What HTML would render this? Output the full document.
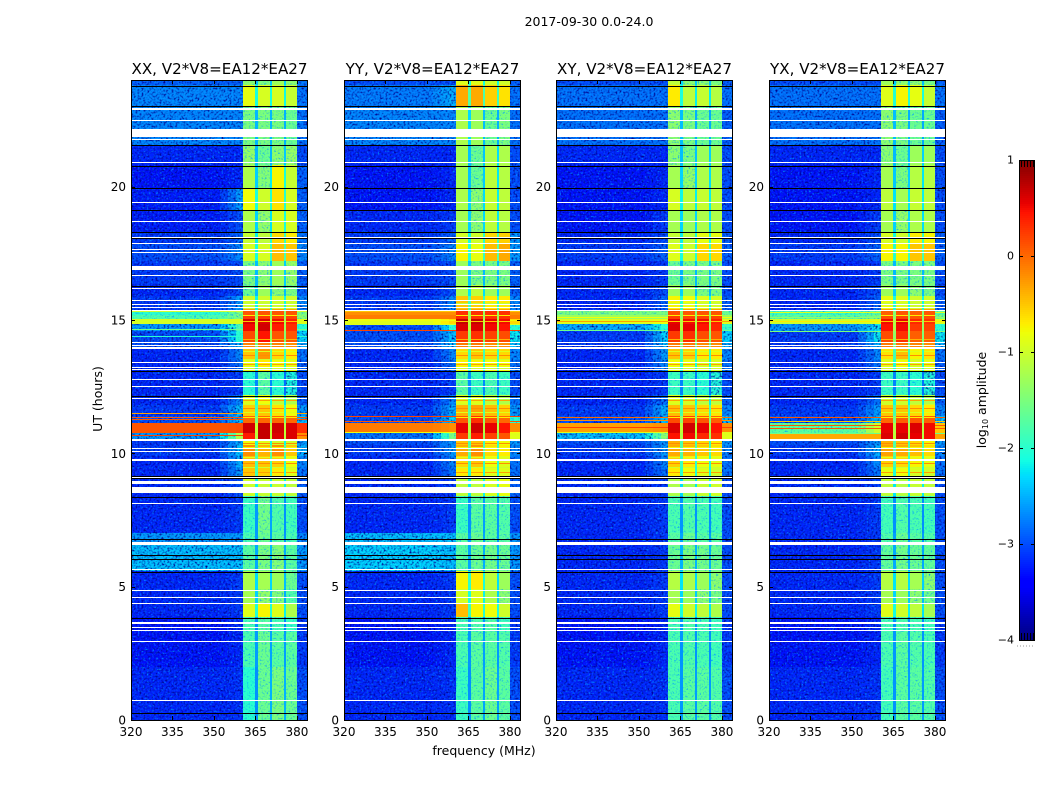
<!DOCTYPE html>
<html lang="en">
<head>
<meta charset="utf-8">
<title>2017-09-30 0.0-24.0</title>
<style>
html,body{margin:0;padding:0;background:#fff;}
svg{display:block;}
text{font-family:"DejaVu Sans","Liberation Sans",sans-serif;fill:#000;}
</style>
</head>
<body>
<svg id="chart" xmlns="http://www.w3.org/2000/svg" width="1050" height="800" viewBox="0 0 1050 800">
  <defs>
    <filter id="speckle" x="0" y="0" width="100%" height="100%" color-interpolation-filters="sRGB">
      <feTurbulence type="fractalNoise" baseFrequency="0.55" numOctaves="2" seed="3"/>
      <feColorMatrix type="matrix" values="0 0 0 0 0  0 0 0 0 0.62  0 0 0 0 1  1.7 1.7 0 0 -1.75"/>
    </filter>
    <filter id="speckle-dark" x="0" y="0" width="100%" height="100%" color-interpolation-filters="sRGB">
      <feTurbulence type="fractalNoise" baseFrequency="0.5" numOctaves="2" seed="9"/>
      <feColorMatrix type="matrix" values="0 0 0 0 0  0 0 0 0 0  0 0 0 0 0.55  1.7 1.7 0 0 -1.6"/>
    </filter>
  </defs>
  <rect x="0" y="0" width="1050" height="800" fill="#ffffff"/>
  <text x="589" y="26" font-size="12.5" text-anchor="middle">2017-09-30 0.0-24.0</text>
  <text transform="translate(102,399) rotate(-90)" font-size="12.5" text-anchor="middle">UT (hours)</text>
  <text x="484" y="755" font-size="12.5" text-anchor="middle">frequency (MHz)</text>
  <text transform="translate(986,400) rotate(-90)" font-size="12.5" text-anchor="middle">log<tspan font-size="8" dy="2">10</tspan><tspan dy="-2"> amplitude</tspan></text>
  <g id="panels"></g>
  <g id="colorbar"></g>
</svg>
<script>
// ---------- shared axis data ----------
const panelTitles = ["XX, V2*V8=EA12*EA27", "YY, V2*V8=EA12*EA27", "XY, V2*V8=EA12*EA27", "YX, V2*V8=EA12*EA27"];
const freqTicks = [320, 335, 350, 365, 380];
const timeTicks = [0, 5, 10, 15, 20];
const colorTicks = [-4, -3, -2, -1, 0, 1];

// Channel boundaries (MHz): background, shoulder ramp (3), sub-band 1, gap, sub-band 2, gap, sub-band 3, gap, sub-band 4, upper edge
const freqEdges = [320, 352, 355, 358, 360.5, 365, 366, 370.1, 371, 375.2, 376, 380, 384];

// Time row boundaries (hours), top to bottom
const timeEdges = [24, 23.8, 23.04, 21.56, 20.8, 19.95, 19.13, 18.3, 17.9, 17.2, 16.3, 15.9, 15.34, 15.2, 15.04, 14.85, 14.6, 14.15, 13.9, 13.5, 13.1, 12.2, 11.8, 11.4, 11.15, 10.75, 10.5, 10.3, 9.9, 9.5, 9.16, 8.4, 7, 6.56, 5.6, 4.9, 4.35, 3.85, 3.3, 2, 0];

// log10 amplitude per time row: [background, shoulder, sub1, sub2, sub3, sub4, upper edge]
const xxLevels = [
[-2.9,-2.9,-1.4,-1.5,-1.3,-1.4,-2.8],[-2.7,-2.7,-0.85,-0.95,-0.95,-1.05,-2.8],[-2.7,-2.7,-1.5,-1.5,-1.5,-1.6,-2.8],
[-3.2,-3.2,-1.35,-1.6,-1.4,-1.35,-3],[-3.3,-3.2,-1.2,-1.45,-0.75,-1.05,-2.9],[-3.25,-2.6,-0.8,-1,-0.65,-0.95,-2.9],
[-3.25,-3,-1.2,-1.35,-0.95,-0.95,-2.9],[-3.1,-2.9,-1.05,-1.1,-0.6,-0.7,-2.8],[-3,-2.7,-0.95,-0.95,-0.45,-0.5,-2.7],
[-3.1,-3,-1.5,-1.4,-1.3,-1.35,-2.9],[-3.2,-3,-1.6,-1.3,-1.4,-1.5,-2.9],[-3.1,-2.6,-1,-1,-1,-1,-2.7],
[-2,-1.5,0.1,0.1,0.1,0.1,-1.5],[-1.8,-1.5,0.25,0.25,0.2,0.2,-1.4],[-0.95,-0.95,0.6,0.6,0.5,0.4,-0.9],
[-2.6,-1.8,0.5,0.65,0.4,0.3,-2],[-3,-2,0.15,0.45,0.1,0.1,-2.3],[-3,-2.5,-0.15,-0.15,-0.15,-0.2,-2.5],
[-3.2,-2.7,-0.5,-0.25,-0.6,-0.7,-2.8],[-3.2,-2.8,-0.85,-0.7,-0.8,-0.85,-2.9],[-3.2,-3.1,-2,-1.7,-2,-2.1,-3],
[-3.2,-2.7,-0.9,-0.8,-1.1,-1.2,-2.9],[-3.1,-2.4,-0.55,-0.5,-0.65,-0.8,-2.6],[-3,-2.4,0,0,0,0,-2.4],
[0.1,0.15,0.65,0.7,0.65,0.6,0.3],[-2.6,-1.2,0.4,0.7,0.6,0.6,-0.2],[-3.1,-2.5,-0.8,-0.9,-1,-1,-2.6],
[-3.1,-2.4,-0.2,-0.4,-0.2,-0.5,-2.5],[-3.2,-2.5,-0.45,-0.5,-0.55,-0.8,-2.7],[-3.2,-2.6,-0.5,-0.55,-0.7,-0.9,-2.8],
[-3.2,-3,-1,-1.05,-1.05,-1.1,-2.9],[-3.2,-3.1,-1.9,-1.55,-1.75,-1.85,-3],[-2.6,-2.6,-1.8,-1.6,-1.7,-1.8,-2.7],
[-2.4,-2.4,-1.7,-1.5,-1.45,-1.7,-2.6],[-3.2,-3.1,-1.2,-1.25,-1.3,-1.6,-3],[-3.2,-3.1,-1.25,-1.35,-1.45,-1.75,-3],
[-3.2,-3.1,-0.9,-0.75,-0.9,-1.2,-3],[-3.3,-3.2,-1.8,-1.7,-1.8,-1.9,-3.1],[-3.3,-3.2,-1.8,-1.6,-1.7,-1.7,-3.1],
[-3.2,-3.15,-2,-1.6,-1.5,-1.6,-3]];

const yyLevels = [
[-3,-3,-0.9,-0.9,-1,-1,-2.9],[-2.75,-2.5,-0.35,-0.35,-0.55,-0.65,-2.8],[-2.7,-2.7,-1.2,-1.3,-1.6,-1.5,-2.8],
[-3.2,-3.2,-1.25,-1.6,-1.2,-1.2,-3],[-3.3,-3.2,-1.25,-1.6,-1.1,-1.15,-3],[-3.3,-3.2,-1.2,-1.4,-1.05,-1.1,-3],
[-3.2,-3.1,-1.25,-1.4,-1.1,-1.15,-3],[-3.1,-2.9,-0.95,-1,-0.6,-0.55,-2.6],[-3,-2.7,-0.75,-0.85,-0.45,-0.35,-2.6],
[-3.1,-3,-1.3,-1.5,-1.5,-1.5,-2.9],[-3.2,-3,-1.2,-1.1,-1.3,-1.3,-2.9],[-3.1,-2.7,-0.5,-0.55,-0.7,-0.7,-2.7],
[-0.2,-0.2,0.3,0.3,0.3,0.3,-0.2],[-0.1,-0.1,0.35,0.3,0.3,0.3,-0.1],[-0.9,-0.6,0.7,0.7,0.55,0.5,-0.6],
[-3,-2,0.6,0.6,0.5,0.45,-2],[-3,-2.4,0.25,0.3,0.2,0.15,-2.2],[-3,-2.4,-0.1,-0.1,-0.2,-0.2,-2.4],
[-3.2,-2.7,-0.6,-0.5,-0.6,-0.6,-2.7],[-3.2,-2.8,-0.75,-0.75,-0.8,-0.8,-2.8],[-3.2,-3.1,-1.7,-1.9,-1.8,-1.9,-3],
[-3.2,-2.7,-0.9,-0.9,-1.1,-1.2,-2.8],[-3.1,-2.5,-0.4,-0.3,-0.45,-0.55,-2.6],[-3,-2.3,0.1,0.3,0.1,0,-2],
[-0.1,-0.2,0.55,0.65,0.55,0.45,-0.2],[-2.8,-1.5,0.25,0.4,0.2,0.1,-0.9],[-3,-2.6,-0.5,-0.5,-0.7,-0.8,-2.6],
[-3.1,-2.6,-0.35,-0.2,-0.6,-0.7,-2.7],[-3.2,-2.7,-0.6,-0.5,-0.8,-0.9,-2.8],[-3.2,-2.8,-0.7,-0.7,-0.9,-0.9,-2.8],
[-3.2,-3.1,-1.1,-1.1,-0.95,-0.85,-2.9],[-3.2,-3.1,-1.9,-1.7,-1.7,-1.75,-3],[-2.4,-2.4,-1.7,-1.6,-1.7,-1.7,-2.6],
[-2.3,-2.4,-1.7,-1.6,-1.55,-1.6,-2.6],[-3.2,-3.1,-0.75,-0.7,-1.1,-1.3,-3],[-3.2,-3.1,-0.95,-0.9,-1.2,-1.4,-3],
[-3.2,-3.1,-0.45,-0.75,-0.8,-1,-3],[-3.3,-3.2,-1.8,-1.75,-1.7,-1.85,-3.1],[-3.3,-3.2,-1.8,-1.7,-1.7,-1.75,-3.1],
[-3.2,-3.15,-1.9,-1.7,-1.6,-1.7,-3]];

const xyLevels = [
[-3,-3,-1.1,-1.4,-1.4,-1.5,-2.9],[-2.8,-2.8,-0.7,-1.1,-1.05,-1.15,-2.8],[-2.8,-2.8,-1.4,-1.5,-1.6,-1.6,-2.9],
[-3.2,-3.2,-1.4,-1.5,-1.3,-1.3,-3],[-3.3,-3.2,-1.25,-1.35,-1.2,-1.2,-3],[-3.3,-3.2,-0.95,-1.1,-1.05,-1.1,-3],
[-3.3,-3.1,-1.25,-1.3,-1.2,-1.2,-3],[-3.2,-3,-1.05,-1.1,-0.85,-0.85,-2.9],[-3.1,-2.9,-0.9,-1,-0.6,-0.6,-2.9],
[-3.2,-3.1,-1.6,-1.5,-1.5,-1.5,-3],[-3.2,-3,-1.3,-1.3,-1.5,-1.5,-3],[-3.2,-2.9,-0.75,-0.8,-0.9,-0.95,-2.9],
[-1.5,-1.5,0.15,0.1,0.1,0.1,-1.6],[-1.3,-1.3,0.25,0.2,0.2,0.2,-1.3],[-0.9,-0.8,0.55,0.5,0.5,0.4,-0.9],
[-2.5,-2,0.6,0.55,0.45,0.35,-1.9],[-3.1,-2.3,0.25,0.3,0.15,0.1,-2.3],[-3.1,-2.4,-0.1,-0.1,-0.2,-0.2,-2.5],
[-3.2,-2.6,-0.5,-0.55,-0.7,-0.7,-2.7],[-3.2,-2.7,-0.8,-0.85,-0.95,-0.95,-2.8],[-3.2,-3.1,-1.9,-1.9,-2,-2.05,-3],
[-3.2,-2.8,-0.9,-0.95,-1.1,-1.1,-2.9],[-3.1,-2.5,-0.45,-0.5,-0.6,-0.65,-2.7],[-3,-2.4,0.15,0.2,0.1,0.05,-2.4],
[-0.3,-0.2,0.6,0.65,0.55,0.45,-0.2],[-2.4,-1.4,0.45,0.5,0.35,0.3,-0.9],[-3,-2.6,-0.4,-0.5,-0.6,-0.7,-2.6],
[-3.1,-2.6,-0.35,-0.4,-0.5,-0.6,-2.7],[-3.2,-2.7,-0.55,-0.7,-0.8,-0.85,-2.8],[-3.2,-2.8,-0.7,-0.8,-0.9,-1,-2.8],
[-3.2,-3.1,-1.2,-1.25,-1.05,-1,-3],[-3.2,-3.1,-1.8,-1.75,-1.8,-1.85,-3],[-3.2,-3.1,-1.7,-1.6,-1.7,-1.7,-3],
[-3.2,-3.1,-1.6,-1.5,-1.55,-1.6,-3],[-3.2,-3.1,-1.15,-1.2,-1.3,-1.4,-3],[-3.2,-3.1,-1.25,-1.3,-1.4,-1.5,-3],
[-3.2,-3.1,-0.85,-1,-1.1,-1.2,-3],[-3.3,-3.2,-1.8,-1.75,-1.8,-1.85,-3.1],[-3.3,-3.2,-1.8,-1.75,-1.8,-1.85,-3.1],
[-3.2,-3.15,-1.8,-1.7,-1.7,-1.75,-3]];

const yxLevels = [
[-3,-3,-1.3,-1.4,-1.4,-1.5,-2.9],[-2.8,-2.8,-0.9,-0.75,-0.85,-1.05,-2.8],[-2.8,-2.8,-1.4,-1.5,-1.6,-1.6,-2.9],
[-3.2,-3.2,-1.4,-1.6,-1.3,-1.3,-3],[-3.3,-3.2,-1.25,-1.5,-1.15,-1.15,-3],[-3.3,-3.2,-1.1,-1.25,-1.05,-1.1,-3],
[-3.3,-3.1,-1.25,-1.35,-1.2,-1.2,-3],[-3.2,-3,-0.95,-1,-0.7,-0.75,-2.9],[-3.1,-2.9,-0.75,-0.75,-0.5,-0.5,-2.9],
[-3.2,-3.1,-1.5,-1.5,-1.5,-1.5,-3],[-3.2,-3,-1.3,-1.3,-1.4,-1.5,-3],[-3.2,-2.9,-0.85,-0.9,-1,-1,-2.9],
[-1.9,-1.7,0.05,0.1,0.05,0.1,-1.7],[-1.7,-1.5,0.15,0.2,0.1,0.15,-1.5],[-1,-0.9,0.5,0.55,0.35,0.3,-0.9],
[-2.6,-2.2,0.45,0.5,0.25,0.2,-2],[-3.1,-2.2,0.15,0.3,0.05,0.05,-2.2],[-3.1,-2.5,-0.1,-0.1,-0.15,-0.2,-2.5],
[-3.2,-2.7,-0.65,-0.45,-0.75,-0.65,-2.8],[-3.2,-2.8,-0.9,-0.8,-0.95,-0.85,-2.9],[-3.2,-3.1,-1.9,-1.9,-2,-2.05,-3],
[-3.2,-2.8,-1,-1,-1.1,-1.2,-2.9],[-3.1,-2.6,-0.5,-0.5,-0.6,-0.7,-2.7],[-3,-2.4,0,0.05,0.1,0.05,-2.4],
[-1.7,-1,0.55,0.55,0.6,0.5,-0.5],[-0.35,-0.35,0.6,0.65,0.55,0.5,-0.3],[-3,-2.6,-0.4,-0.5,-0.6,-0.75,-2.6],
[-3.1,-2.5,-0.3,-0.35,-0.45,-0.6,-2.7],[-3.2,-2.7,-0.55,-0.6,-0.75,-0.85,-2.8],[-3.2,-2.8,-0.85,-0.8,-0.95,-1,-2.8],
[-3.2,-3.1,-1.1,-1.15,-1.05,-1.1,-3],[-3.2,-3.1,-1.85,-1.75,-1.8,-1.85,-3],[-3.2,-3.1,-1.75,-1.6,-1.7,-1.75,-3],
[-3.2,-3.1,-1.65,-1.55,-1.6,-1.65,-3],[-3.2,-3.1,-1.15,-1.15,-1.25,-1.4,-3],[-3.2,-3.1,-1.25,-1.3,-1.4,-1.55,-3],
[-3.2,-3.1,-0.9,-1,-1.1,-1.25,-3],[-3.3,-3.2,-1.8,-1.75,-1.8,-1.85,-3.1],[-3.3,-3.2,-1.8,-1.7,-1.75,-1.8,-3.1],
[-3.2,-3.15,-1.85,-1.7,-1.7,-1.75,-3]];

// Thin across-band interference rows: [hour, log10 amplitude]
const xxCrossLines = [[15.32,-1],[14.65,-1.6],[14.4,-2],[11.5,-0.3],[11.37,0.1],[11.27,0.1],[10.68,0.2]];
const yyCrossLines = [[15.35,-0.5],[15,-0.8],[14.85,-0.9],[14.62,0.2],[11.4,0.2],[11.2,0.1],[10.8,-0.8]];
const xyCrossLines = [[15.1,-0.8],[14.95,-0.3],[14.62,-1.6],[11.37,0],[11.25,-0.2],[11,0.2],[10.8,-0.9]];
const yxCrossLines = [[15.3,-0.9],[15.1,-1.4],[14.95,-0.7],[14.6,-1.5],[11.37,0.1],[11.2,-0.5],[11.05,0.1],[10.95,0.1],[10.75,-1.6]];

// Thin in-band stripes (hours) and their log10 amplitude
const subStripeTimes = [15.65,15.42,15.18,14.98,14.3,14.05,13.85,13.7,13.55,13.35,13.2,12,11.85,11.7,11.55,11.35,10.4,10.25,10.1,9.85,9.65,9.5,9.3];
const subStripeLevels = [-1.1,-0.3,-0.7,-0.5,-0.4,-0.8,-0.9,-0.2,-1,-0.3,-1,-0.3,-1,-0.2,-0.9,-0.7,-0.2,-0.8,-0.1,-0.9,-0.2,-1,-0.3];

// Flagged (missing) data ranges in hours: [start, end], drawn white
const flaggedRanges = [[22.96,22.88],[22.51,22.47],[22.16,21.86],[21.8,21.76],[20.92,20.88],[19.41,19.37],[18.72,18.68],[18.11,18.07],[17.9,17.86],[17.68,17.64],[17.56,17.52],[17.03,16.88],[16.68,16.64],[16.19,16.15],[15.74,15.7],[15.61,15.57],[15.5,15.46],[15.36,15.32],[14.16,14.12],[14.06,14.02],[13.97,13.91],[13.42,13.38],[13.25,13.21],[13.15,13.11],[12.8,12.76],[12.52,12.48],[12.08,12.04],[10.52,10.48],[10.19,10.15],[10.08,10.04],[9.77,9.73],[9.15,9.04],[8.97,8.85],[8.73,8.52],[8.15,8.11],[6.69,6.56],[5.65,5.61],[4.88,4.84],[4.61,4.57],[4.4,4.36],[3.67,3.61],[3.48,3.44],[3.38,3.34],[2.97,2.93],[0.76,0.72]];

// Zero-amplitude scan boundaries (hours), drawn black
const scanGapTimes = [23.79,23.04,21.56,20.78,19.95,19.13,18.3,18.08,16.28,13.1,12.16,9.16,9.07,8.37,6.79,6.19,6.04,5.55,3.83,0.26];

// Panel frames on the figure
const panelLevels = [xxLevels, yyLevels, xyLevels, yxLevels];
const panelCrossLines = [xxCrossLines, yyCrossLines, xyCrossLines, yxCrossLines];
const panelLefts = [131, 344, 556, 769];
const panelKeys = ["xx", "yy", "xy", "yx"];
const panelWidth = 177, panelTop = 80, panelHeight = 640;

const SVGNS = "http://www.w3.org/2000/svg";
const panelsRoot = document.getElementById("panels");
const colorbarRoot = document.getElementById("colorbar");

function jet(level) {
  const t = Math.max(0, Math.min(1, (level + 4) / 5));
  const ramp = (x, pts) => {
    for (let i = 1; i < pts.length; i++) {
      if (x <= pts[i][0]) {
        const a = pts[i - 1], b = pts[i];
        return a[1] + (b[1] - a[1]) * (x - a[0]) / (b[0] - a[0]);
      }
    }
    return pts[pts.length - 1][1];
  };
  const r = ramp(t, [[0, 0], [0.35, 0], [0.66, 1], [0.89, 1], [1, 0.5]]);
  const g = ramp(t, [[0, 0], [0.125, 0], [0.375, 1], [0.64, 1], [0.91, 0], [1, 0]]);
  const b = ramp(t, [[0, 0.5], [0.11, 1], [0.34, 1], [0.65, 0], [1, 0]]);
  return "rgb(" + Math.round(r * 255) + "," + Math.round(g * 255) + "," + Math.round(b * 255) + ")";
}

function xAxis(panelIndex) {
  return f => panelLefts[panelIndex] + (f - 320) * panelWidth / 64;
}
function yAxis(hour) {
  return panelTop + panelHeight - hour * panelHeight / 24;
}
function cbAxis(level) {
  return 640 - (level + 4) * 96;
}

function makeRect(parent, x, y, w, h, fill) {
  const el = document.createElementNS(SVGNS, "rect");
  el.setAttribute("x", x);
  el.setAttribute("y", y);
  el.setAttribute("width", w);
  el.setAttribute("height", h);
  el.setAttribute("fill", fill);
  el.setAttribute("shape-rendering", "crispEdges");
  parent.appendChild(el);
  return el;
}
function makeLine(parent, x1, y1, x2, y2) {
  const el = document.createElementNS(SVGNS, "line");
  el.setAttribute("x1", x1);
  el.setAttribute("y1", y1);
  el.setAttribute("x2", x2);
  el.setAttribute("y2", y2);
  el.setAttribute("stroke", "#000");
  el.setAttribute("stroke-width", "1");
  el.setAttribute("shape-rendering", "crispEdges");
  parent.appendChild(el);
  return el;
}
function makeText(parent, x, y, str, size, anchor) {
  const el = document.createElementNS(SVGNS, "text");
  el.setAttribute("x", x);
  el.setAttribute("y", y);
  el.setAttribute("font-size", size);
  el.setAttribute("text-anchor", anchor);
  el.textContent = str;
  parent.appendChild(el);
  return el;
}

// How each channel column reads a row of levels
function columnLevel(row, c) {
  if (c === 0) return row[0];
  if (c === 1) return row[0] + 0.3 * (row[1] - row[0]);
  if (c === 2) return row[0] + 0.65 * (row[1] - row[0]);
  if (c === 3) return row[1];
  if (c === 4) return row[2];
  if (c === 5) return -1.5 + 0.65 * (row[2] + row[3]) / 2;
  if (c === 6) return row[3];
  if (c === 7) return -1.5 + 0.65 * (row[3] + row[4]) / 2;
  if (c === 8) return row[4];
  if (c === 9) return -1.5 + 0.65 * (row[4] + row[5]) / 2;
  if (c === 10) return row[5];
  return row[6];
}
const subBandColumns = [4, 6, 8, 10];

panelLevels.forEach((levels, p) => {
  const x = xAxis(p);
  const left = panelLefts[p];
  const right = left + panelWidth;
  const g = document.createElementNS(SVGNS, "g");
  
  
  panelsRoot.appendChild(g);

  levels.forEach((row, r) => {
    const y0 = Math.round(yAxis(timeEdges[r]));
    const y1 = Math.round(yAxis(timeEdges[r + 1]));
    if (y1 <= y0) return;
    for (let c = 0; c < freqEdges.length - 1; c++) {
      const level = columnLevel(row, c);
      const x0 = Math.round(x(freqEdges[c]));
      const x1 = Math.round(x(freqEdges[c + 1]));
      const cell = makeRect(g, x0, y0, x1 - x0, y1 - y0, jet(level));
      
      
      const isGap = c === 5 || c === 7 || c === 9;
      if (!isGap && level < -1.3) {
        const sp = makeRect(g, x0, y0, x1 - x0, y1 - y0, "#000");
        sp.setAttribute("filter", "url(#speckle)");
        
        
      }
      if (!isGap && level < -2) {
        const dk = makeRect(g, x0, y0, x1 - x0, y1 - y0, "#000");
        dk.setAttribute("filter", "url(#speckle-dark)");
        
        
      }
    }
  });

  // in-band stripes
  subStripeTimes.forEach((hour, i) => {
    subBandColumns.forEach(c => {
      const x0 = Math.round(x(freqEdges[c]));
      const stripe = makeRect(g, x0, Math.round(yAxis(hour)), Math.round(x(freqEdges[c + 1])) - x0, 1, jet(subStripeLevels[i]));
      
      
    });
  });

  // across-band interference rows
  panelCrossLines[p].forEach(item => {
    const yy = Math.round(yAxis(item[0]));
    const colour = jet(item[1]);
    const a = makeRect(g, left, yy, Math.round(x(freqEdges[4])) - left, 1, colour);
    
    
    const bx = Math.round(x(freqEdges[11]));
    const b = makeRect(g, bx, yy, Math.round(right) - bx, 1, colour);
    
    
  });

  // flagged rows
  flaggedRanges.forEach(range => {
    const y0 = Math.round(yAxis(range[0]));
    const h = Math.max(1, Math.round(yAxis(range[1])) - y0);
    const el = makeRect(g, left, y0, panelWidth, h, "#ffffff");
    
    
  });

  // scan gaps
  scanGapTimes.forEach(hour => {
    const el = makeRect(g, left, Math.round(yAxis(hour)), panelWidth, 1, "#000000");
    
    
  });

  // frame
  const frame = makeRect(g, left + 0.5, panelTop + 0.5, panelWidth - 1, panelHeight, "none");
  frame.setAttribute("stroke", "#000");
  frame.setAttribute("stroke-width", "1");
  
  

  // x ticks
  freqTicks.forEach(f => {
    const tx = Math.round(x(f)) + 0.5;
    const t1 = makeLine(g, tx, panelTop + panelHeight, tx, panelTop + panelHeight - 4);
    
    
    const t2 = makeLine(g, tx, panelTop, tx, panelTop + 4);
    
    
    const lab = makeText(g, x(f), 736, String(f), 12, "middle");
    
    
  });

  // y ticks
  timeTicks.forEach(hour => {
    const ty = Math.round(yAxis(hour)) + 0.5;
    const t1 = makeLine(g, left, ty, left + 4, ty);
    
    
    const t2 = makeLine(g, right - 4, ty, right, ty);
    
    
    const lab = makeText(g, left - 5, yAxis(hour) + 4.5, String(hour), 12, "end");
    
    
  });

  const title = makeText(g, left + panelWidth / 2, 74, panelTitles[p], 15.1, "middle");
  
  
});

// Colorbar
const cbLeft = 1019, cbWidth = 16;
for (let px = 0; px < 480; px += 2) {
  const level = 1 - (px + 1) / 96;
  const swatch = makeRect(colorbarRoot, cbLeft, cbAxis(1) + px, cbWidth, 2, jet(level));
  
  
}
const cbFrame = makeRect(colorbarRoot, cbLeft + 0.5, cbAxis(1) + 0.5, cbWidth - 1, 480, "none");
cbFrame.setAttribute("stroke", "#000");


for (let k = 0; k < 5; k++) {
  const ex = cbLeft + 2.5 + k * 3;
  const top = makeLine(colorbarRoot, ex, 160, ex, 167);
  
  
  const bot = makeLine(colorbarRoot, ex, 633, ex, 640);
  
  
}
colorTicks.forEach(level => {
  const y = Math.round(cbAxis(level)) + 0.5;
  const t1 = makeLine(colorbarRoot, cbLeft, y, cbLeft + 4, y);
  
  
  const t2 = makeLine(colorbarRoot, cbLeft + cbWidth - 4, y, cbLeft + cbWidth, y);
  
  
  const lab = makeText(colorbarRoot, cbLeft - 5, cbAxis(level) + 3.5, (level < 0 ? "\u2212" : "") + Math.abs(level), 11, "end");
  
  
});
const cbDots = makeLine(colorbarRoot, 1017, 646, 1035, 646);
cbDots.setAttribute("stroke", "#999");
cbDots.setAttribute("stroke-dasharray", "1 2");


</script>
</body>
</html>
